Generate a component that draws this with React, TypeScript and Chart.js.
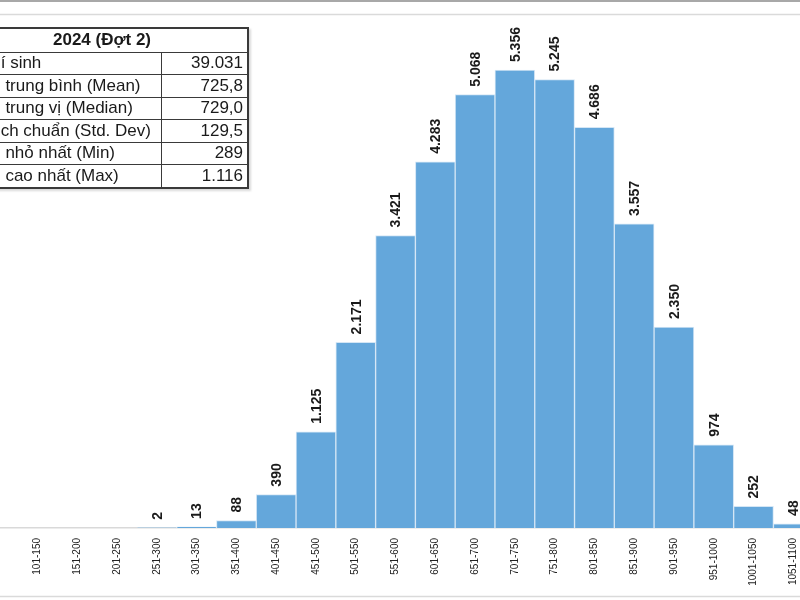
import React, { useEffect, useRef } from "react";
import { Chart, registerables } from "chart.js";

Chart.register(...registerables);

const categories = [
  "0-50", "51-100", "101-150", "151-200", "201-250", "251-300", "301-350",
  "351-400", "401-450", "451-500", "501-550", "551-600", "601-650", "651-700",
  "701-750", "751-800", "801-850", "851-900", "901-950", "951-1000",
  "1001-1050", "1051-1100", "1101-1150",
];
const counts = [
  0, 0, 0, 0, 0, 2, 13, 88, 390, 1125, 2171, 3421, 4283, 5068, 5356, 5245,
  4686, 3557, 2350, 974, 252, 48, 2,
];
const tableTitle = "2024 (Đợt 2)";
const statLabels = [
  "Số thí sinh",
  "Điểm trung bình (Mean)",
  "Điểm trung vị (Median)",
  "Độ lệch chuẩn (Std. Dev)",
  "Điểm nhỏ nhất (Min)",
  "Điểm cao nhất (Max)",
];
const statValues = ["39.031", "725,8", "729,0", "129,5", "289", "1.116"];
const yMax = 6000;

const FONT = "'Liberation Sans', Arial, sans-serif";
const BAR_COLOR = "#64A7DB";

function fmt(n: number): string {
  const s = String(Math.round(n));
  return s.replace(/\B(?=(\d{3})+(?!\d))/g, ".");
}

const framePlugin = {
  id: "frameLines",
  beforeDraw(chart: any) {
    const { ctx, width } = chart;
    ctx.save();
    ctx.fillStyle = "#ffffff";
    ctx.fillRect(0, 0, width, chart.height);
    ctx.strokeStyle = "#a8a8a8";
    ctx.lineWidth = 2;
    ctx.beginPath();
    ctx.moveTo(0, 1);
    ctx.lineTo(width, 1);
    ctx.stroke();
    ctx.strokeStyle = "#dadada";
    ctx.lineWidth = 1.5;
    ctx.beginPath();
    ctx.moveTo(0, 14.5);
    ctx.lineTo(width, 14.5);
    ctx.moveTo(0, 596.5);
    ctx.lineTo(width, 596.5);
    ctx.stroke();
    ctx.restore();
  },
};

const valueLabelPlugin = {
  id: "valueLabels",
  afterDatasetsDraw(chart: any) {
    const { ctx } = chart;
    const meta = chart.getDatasetMeta(0);
    const data = chart.data.datasets[0].data as number[];
    ctx.save();
    ctx.font = `bold 14px ${FONT}`;
    ctx.fillStyle = "#1a1a1a";
    ctx.textAlign = "left";
    ctx.textBaseline = "middle";
    meta.data.forEach((bar: any, i: number) => {
      const v = data[i];
      if (!v) return;
      ctx.save();
      ctx.translate(bar.x, bar.y - 8);
      ctx.rotate(-Math.PI / 2);
      ctx.fillText(fmt(v), 0, 1);
      ctx.restore();
    });
    ctx.restore();
  },
};

export default function App() {
  const canvasRef = useRef<HTMLCanvasElement | null>(null);

  useEffect(() => {
    if (!canvasRef.current) return;
    const chart = new Chart(canvasRef.current, {
      type: "bar",
      data: {
        labels: categories,
        datasets: [
          {
            data: counts,
            backgroundColor: BAR_COLOR,
            borderColor: "#d4e6f5",
            borderWidth: 1,
            barPercentage: 1,
            categoryPercentage: 1,
          },
        ],
      },
      options: {
        responsive: false,
        animation: false,
        layout: { padding: { left: 38, right: 47, top: 15, bottom: 0 } },
        plugins: {
          legend: { display: false },
          tooltip: { enabled: false },
        },
        scales: {
          x: {
            grid: { display: false, drawTicks: false },
            border: { display: true, color: "#d9d9d9", width: 1.5 },
            ticks: {
              autoSkip: false,
              minRotation: 90,
              maxRotation: 90,
              padding: 10,
              color: "#222222",
              font: { family: FONT, size: 10 },
            },
            afterFit(scale: any) {
              scale.height = 72;
            },
          },
          y: {
            display: false,
            min: 0,
            max: yMax,
          },
        },
      },
      plugins: [framePlugin, valueLabelPlugin],
    });
    return () => chart.destroy();
  }, []);

  const cellBase: React.CSSProperties = {
    border: "1px solid #3a3a3a",
    padding: "0 4px",
    fontSize: 17,
    fontFamily: FONT,
    color: "#1a1a1a",
    whiteSpace: "nowrap",
    height: 21.5,
    lineHeight: "20px",
  };

  return (
    <div
      style={{
        position: "fixed",
        left: 0,
        top: 0,
        width: 800,
        height: 600,
        overflow: "hidden",
        background: "#ffffff",
      }}
    >
      <div style={{ position: "absolute", left: -100, top: 0, width: 1000, height: 600 }}>
        <canvas
          ref={canvasRef}
          width={1000}
          height={600}
          style={{ position: "absolute", left: 0, top: 0, width: 1000, height: 600 }}
        />
        <table
          style={{
            position: "absolute",
            left: 55,
            top: 27,
            width: 292,
            borderCollapse: "collapse",
            border: "2px solid #3a3a3a",
            background: "#ffffff",
            boxShadow: "2px 2px 2px rgba(0,0,0,0.15)",
            tableLayout: "fixed",
          }}
        >
          <colgroup>
            <col style={{ width: 205 }} />
            <col style={{ width: 87 }} />
          </colgroup>
          <tbody>
            <tr>
              <td
                colSpan={2}
                style={{ ...cellBase, height: 22.5, textAlign: "center", fontWeight: "bold" }}
              >
                {tableTitle}
              </td>
            </tr>
            {statLabels.map((lab, i) => (
              <tr key={lab}>
                <td style={{ ...cellBase, textAlign: "left" }}>{lab}</td>
                <td style={{ ...cellBase, textAlign: "right" }}>{statValues[i]}</td>
              </tr>
            ))}
          </tbody>
        </table>
      </div>
    </div>
  );
}
